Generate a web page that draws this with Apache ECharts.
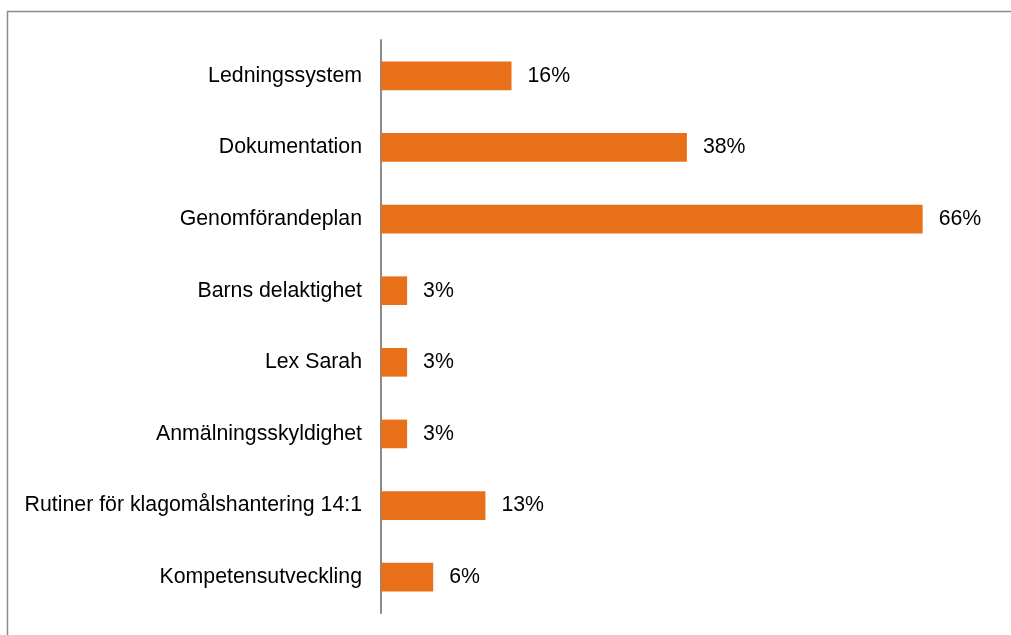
<!DOCTYPE html>
<html>
<head>
<meta charset="utf-8">
<script src="https://cdn.jsdelivr.net/npm/echarts@6/dist/echarts.min.js"></script>
<style>
  html, body { margin: 0; padding: 0; background: #fff; }
  #chart { width: 1011px; height: 635px; }
</style>
</head>
<body>
<div id="chart"></div>
<script>
// categories, top to bottom
var categories = [
  'Ledningssystem',
  'Dokumentation',
  'Genomförandeplan',
  'Barns delaktighet',
  'Lex Sarah',
  'Anmälningsskyldighet',
  'Rutiner för klagomålshantering 14:1',
  'Kompetensutveckling'
]
// share in percent
var values = [16.0, 37.5, 66.4, 3.2, 3.2, 3.2, 12.8, 6.4]

var myChart = echarts.init(document.getElementById('chart'))
myChart.setOption({
  animation: false,
  textStyle: { fontFamily: 'Liberation Sans, Arial, sans-serif' },
  graphic: [
    {
      type: 'rect',
      shape: { x: 7.5, y: 11.5, width: 1100, height: 700 },
      style: { fill: 'none', stroke: '#8c8c8c', lineWidth: 1.5 },
      silent: true
    }
  ],
  grid: {
    left: 381,
    right: 59,
    top: 40,
    bottom: 22
  },
  xAxis: {
    type: 'value',
    min: 0,
    max: 70,
    show: false
  },
  yAxis: {
    type: 'category',
    inverse: true,
    data: categories,
    axisLine: {
      show: true,
      lineStyle: { color: '#8c8c8c', width: 2 }
    },
    axisTick: { show: false },
    axisLabel: {
      color: '#000',
      fontSize: 21.3,
      margin: 19
    }
  },
  series: [
    {
      type: 'bar',
      data: values,
      barCategoryGap: '60%',
      itemStyle: { color: '#E87019' },
      label: {
        show: true,
        position: 'right',
        distance: 16,
        color: '#000',
        fontSize: 21.3,
        formatter: function (p) {
          return Math.round(p.value) + '%'
        }
      }
    }
  ]
})
</script>
</body>
</html>
